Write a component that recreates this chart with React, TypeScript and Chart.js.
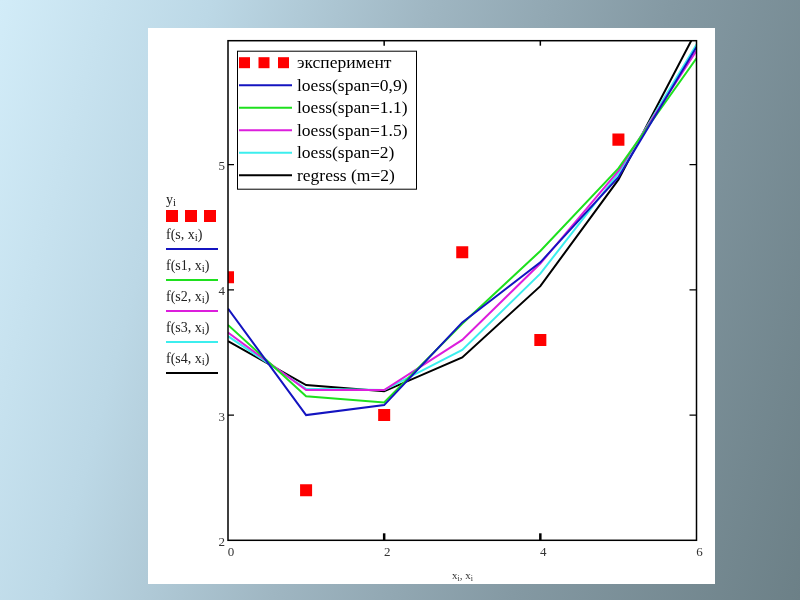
import React, { useEffect, useRef } from "react";
import { Chart, registerables } from "chart.js";

Chart.register(...registerables);

// ---- data ----
const xValues = [0, 1, 2, 3, 4, 5, 6];
const expX = [0, 1, 2, 3, 4, 5];
const expY = [4.1, 2.4, 3.0, 4.3, 3.6, 5.2];
const loess09 = [3.85, 3.0, 3.08, 3.74, 4.22, 4.9, 5.94];
const loess11 = [3.72, 3.15, 3.1, 3.73, 4.31, 4.97, 5.85];
const loess15 = [3.66, 3.2, 3.2, 3.6, 4.21, 4.95, 5.91];
const loess2 = [3.63, 3.21, 3.2, 3.52, 4.13, 4.93, 5.96];
const regress2 = [3.59, 3.24, 3.19, 3.46, 4.03, 4.88, 6.07];

const xTicks = [0, 2, 4, 6];
const yTicks = [2, 3, 4, 5];
const xMin = 0;
const xMax = 6;
const yMin = 2;
const yMax = 5.99;

const legendLabels = [
  "эксперимент",
  "loess(span=0,9)",
  "loess(span=1.1)",
  "loess(span=1.5)",
  "loess(span=2)",
  "regress (m=2)",
];
const sideLabels = ["s", "s1", "s2", "s3", "s4"];
const lineColors = ["#1414c0", "#1ee01e", "#dc1edc", "#3ceeee", "#000000"];
const lineSeries = [loess09, loess11, loess15, loess2, regress2];
const pointColor = "#ff0000";

const SERIF = "'Liberation Serif', 'Times New Roman', serif";

function drawSub(ctx: CanvasRenderingContext2D, parts: [string, boolean][], x: number, y: number, size: number) {
  let cx = x;
  for (const [t, sub] of parts) {
    ctx.font = `${sub ? Math.round(size * 0.75) : size}px ${SERIF}`;
    ctx.fillText(t, cx, sub ? y + size * 0.25 : y);
    cx += ctx.measureText(t).width;
  }
  return cx;
}

const framePlugin = {
  id: "frame",
  afterDatasetsDraw(chart: any) {
    const { ctx, chartArea } = chart;
    const { left, right, top, bottom } = chartArea;
    const xs = chart.scales.x;
    const ys = chart.scales.y;
    ctx.save();
    ctx.strokeStyle = "#000";
    ctx.lineWidth = 1.5;
    ctx.strokeRect(left, top, right - left, bottom - top);
    // inner ticks
    for (const v of xTicks) {
      if (v === xMin || v === xMax) continue;
      const px = xs.getPixelForValue(v);
      ctx.lineWidth = 2.5;
      ctx.beginPath();
      ctx.moveTo(px, bottom);
      ctx.lineTo(px, bottom - 7);
      ctx.stroke();
      ctx.lineWidth = 1.5;
      ctx.beginPath();
      ctx.moveTo(px, top);
      ctx.lineTo(px, top + 5);
      ctx.stroke();
    }
    for (const v of yTicks) {
      if (v === yMin) continue;
      const py = ys.getPixelForValue(v);
      ctx.lineWidth = 1.2;
      ctx.beginPath();
      ctx.moveTo(left, py);
      ctx.lineTo(left + 6, py);
      ctx.moveTo(right, py);
      ctx.lineTo(right - 7, py);
      ctx.stroke();
    }

    // legend box inside plot
    const bx = left + 9;
    const by = top + 10;
    const bw = 179;
    const bh = 138;
    ctx.fillStyle = "#fff";
    ctx.fillRect(bx, by, bw, bh);
    ctx.lineWidth = 1;
    ctx.strokeStyle = "#000";
    ctx.strokeRect(bx + 0.5, by + 0.5, bw, bh);
    ctx.textBaseline = "middle";
    const rowH = 22.5;
    for (let i = 0; i < legendLabels.length; i++) {
      const cy = by + 12 + i * rowH;
      if (i === 0) {
        ctx.fillStyle = pointColor;
        for (let k = 0; k < 3; k++) ctx.fillRect(bx + 2 + k * 19.5, cy - 5.5, 11, 11);
      } else {
        ctx.strokeStyle = lineColors[i - 1];
        ctx.lineWidth = 2;
        ctx.beginPath();
        ctx.moveTo(bx + 2, cy);
        ctx.lineTo(bx + 55, cy);
        ctx.stroke();
      }
      ctx.fillStyle = "#000";
      ctx.font = `17.5px ${SERIF}`;
      ctx.fillText(legendLabels[i], bx + 60, cy + 1);
    }

    // Mathcad-style axis labels on the left
    ctx.fillStyle = "#222";
    ctx.textBaseline = "middle";
    drawSub(ctx, [["y", false], ["i", true]], 166, 200, 14);
    ctx.fillStyle = pointColor;
    for (let k = 0; k < 3; k++) ctx.fillRect(166 + k * 19, 210, 12, 12);
    const rowY = [235, 266, 297, 328, 359];
    for (let i = 0; i < sideLabels.length; i++) {
      ctx.fillStyle = "#222";
      drawSub(ctx, [["f(" + sideLabels[i] + ", x", false], ["i", true], [")", false]], 166, rowY[i], 14);
      ctx.strokeStyle = lineColors[i];
      ctx.lineWidth = 2;
      ctx.beginPath();
      ctx.moveTo(166, rowY[i] + 14);
      ctx.lineTo(218, rowY[i] + 14);
      ctx.stroke();
    }

    // x-axis title
    ctx.fillStyle = "#333";
    drawSub(ctx, [["x", false], ["i", true], [", x", false], ["i", true]], 452, 576, 11);
    ctx.restore();
  },
};

export default function App() {
  const ref = useRef<HTMLCanvasElement>(null);
  useEffect(() => {
    if (!ref.current) return;
    const tickFont = { family: SERIF, size: 13 };
    const chart = new Chart(ref.current, {
      type: "line",
      data: {
        datasets: [
          {
            label: legendLabels[0],
            data: expX.map((x, i) => ({ x, y: expY[i] })),
            showLine: false,
            pointStyle: "rect",
            pointRadius: 8.5,
            pointBorderWidth: 0,
            backgroundColor: pointColor,
            borderColor: pointColor,
            clip: 0,
          },
          ...lineSeries.map((s, k) => ({
            label: legendLabels[k + 1],
            data: xValues.map((x, i) => ({ x, y: s[i] })),
            borderColor: lineColors[k],
            backgroundColor: lineColors[k],
            borderWidth: 2,
            pointRadius: 0,
            tension: 0,
            clip: 0,
          })),
        ],
      },
      options: {
        animation: false,
        responsive: false,
        devicePixelRatio: 1,
        layout: { padding: { left: 208, right: 103.5, top: 40.7, bottom: 39.7 } },
        plugins: { legend: { display: false }, tooltip: { enabled: false } },
        scales: {
          x: {
            type: "linear",
            min: xMin,
            max: xMax,
            grid: { display: false, drawTicks: false },
            border: { display: false },
            afterBuildTicks: (s: any) => {
              s.ticks = xTicks.map((v) => ({ value: v }));
            },
            afterFit: (s: any) => {
              s.height = 20;
            },
            ticks: { font: tickFont, color: "#333", padding: 4, labelOffset: 3, maxRotation: 0 },
          },
          y: {
            type: "linear",
            min: yMin,
            max: yMax,
            grid: { display: false, drawTicks: false },
            border: { display: false },
            afterBuildTicks: (s: any) => {
              s.ticks = yTicks.map((v) => ({ value: v }));
            },
            afterFit: (s: any) => {
              s.width = 20;
            },
            ticks: { font: tickFont, color: "#333", padding: 3, labelOffset: 2 },
          },
        },
      },
      plugins: [framePlugin],
    } as any);
    return () => chart.destroy();
  }, []);

  return (
    <div
      style={{
        position: "fixed",
        left: 0,
        top: 0,
        width: 800,
        height: 600,
        overflow: "hidden",
        background:
          "linear-gradient(105deg, #d2ecf8 0%, #bcd8e6 22%, #9fb6c2 45%, #8499a3 70%, #6c8087 100%)",
      }}
    >
      <div
        style={{
          position: "absolute",
          left: 148,
          top: 28,
          width: 567,
          height: 556,
          background: "#fff",
        }}
      />
      <canvas ref={ref} width={800} height={600} style={{ position: "absolute", left: 0, top: 0 }} />
    </div>
  );
}
